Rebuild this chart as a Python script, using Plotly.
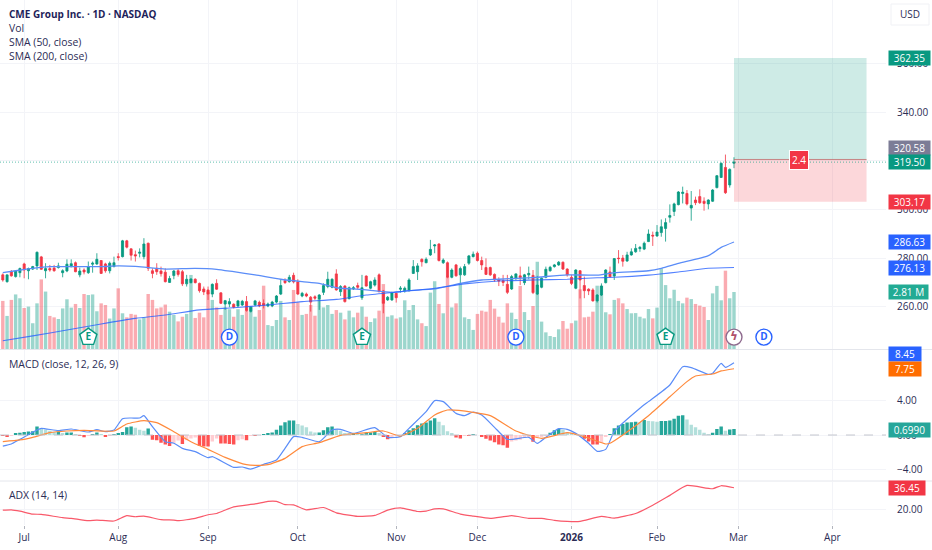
import plotly.graph_objects as go

W, H = 932, 550
PW = 886

tick_idx = [5, 27, 48, 69, 92, 111, 133, 153, 172, 194]
tick_labels = ["Jul", "Aug", "Sep", "Oct", "Nov", "Dec", "<b>2026</b>", "Feb", "Mar", "Apr"]

opens = [
273.1,270.3,274.4,272.4,274.0,277.6,274.8,275.5,276.8,280.5,
274.8,275.7,275.9,276.1,274.0,274.7,276.5,278.1,273.1,275.1,
274.0,277.5,277.6,279.0,277.6,274.8,276.5,280.6,280.6,287.1,
283.8,281.4,282.0,280.6,286.1,274.8,275.8,274.7,274.2,270.0,
272.8,274.8,274.4,269.4,269.9,271.3,269.6,267.3,266.9,265.2,
269.6,265.7,261.1,261.1,261.0,260.3,260.7,262.1,258.1,260.7,
261.8,261.3,260.3,260.3,261.9,265.2,270.7,270.3,272.9,270.2,
264.4,265.2,263.9,264.1,263.2,265.9,268.3,268.0,273.5,266.2,
268.5,263.3,267.3,268.7,263.7,272.6,267.6,268.9,273.1,266.5,
262.8,262.8,265.5,267.2,266.5,266.6,273.7,274.4,279.5,278.1,
281.3,285.0,285.8,278.1,278.1,272.1,277.2,273.1,273.1,277.9,
280.6,282.0,279.0,276.1,276.1,273.3,271.0,270.7,269.2,267.3,
271.7,272.7,269.9,273.1,272.9,265.2,268.0,272.1,274.8,276.5,
277.2,278.3,275.5,272.1,267.6,274.8,268.7,267.2,266.9,262.4,
264.8,269.9,274.3,272.6,280.0,280.0,278.8,281.3,282.6,283.9,
283.7,286.8,289.4,289.1,290.5,292.2,296.8,299.2,302.0,306.6,
306.6,300.6,303.9,305.3,303.4,302.3,303.4,309.0,313.2,317.3,310.1,319.0]

closes = [
271.0,273.1,272.7,274.7,275.7,275.1,275.7,276.5,282.4,275.4,
275.7,275.1,274.8,276.8,274.8,277.5,277.7,274.4,274.7,274.3,
276.5,277.9,279.5,273.7,274.8,277.9,278.1,280.3,287.1,284.5,
281.2,280.9,282.4,285.8,275.8,273.7,274.4,273.6,270.3,271.6,
274.7,273.3,269.4,271.3,271.4,269.9,266.6,266.1,265.2,269.2,
267.2,261.4,262.5,262.1,259.8,262.4,262.2,258.4,259.8,262.4,
260.3,260.6,261.1,261.9,264.4,268.7,269.9,272.1,270.2,265.2,
265.5,264.4,261.9,263.5,264.8,268.7,271.3,271.3,266.9,268.3,
262.1,267.8,267.8,268.0,267.8,268.5,270.3,271.0,266.2,261.4,
263.9,265.8,263.7,267.6,267.6,271.0,276.5,276.8,278.5,279.5,
283.6,285.4,279.0,279.2,272.1,275.1,272.7,275.7,276.5,280.9,
281.6,279.0,277.2,273.3,273.1,271.0,270.6,270.0,265.9,272.4,
273.5,272.0,273.1,273.7,265.8,268.9,271.7,275.4,276.2,277.2,
278.3,275.5,273.1,269.6,275.1,271.0,266.6,266.5,262.4,264.8,
268.5,275.1,272.3,279.8,279.8,278.7,281.3,282.6,284.0,284.4,
286.1,289.9,289.1,290.7,292.9,294.6,297.5,302.3,307.2,307.1,
302.3,301.7,302.8,302.8,302.5,303.9,308.0,313.9,319.0,306.9,316.5,319.5]

highs = [
273.7,273.1,275.1,275.1,276.1,278.1,276.1,276.8,282.7,280.9,
277.9,277.2,277.2,278.1,275.4,279.5,279.5,278.6,276.1,275.8,
278.6,278.6,282.0,279.2,278.1,278.6,280.6,282.0,287.5,287.5,
284.0,283.1,284.0,288.2,286.4,275.8,277.9,276.5,275.8,272.7,
275.1,275.5,275.1,273.1,271.7,271.7,269.9,268.3,268.3,269.6,
271.3,265.9,262.8,263.5,261.4,262.8,262.8,264.4,260.0,262.8,
262.5,263.0,261.7,262.4,264.8,271.0,271.7,273.1,274.0,271.3,
266.1,265.8,264.4,264.7,265.2,269.6,274.4,271.7,275.4,268.9,
268.9,268.3,268.5,269.9,273.1,272.9,270.7,272.1,273.7,266.9,
264.4,266.2,265.8,268.5,268.3,271.7,279.2,277.9,279.9,280.3,
287.5,285.8,286.1,279.9,278.6,275.8,277.6,276.5,277.6,281.3,
282.7,282.7,280.6,279.9,276.5,273.7,272.1,273.1,273.1,273.1,
273.7,276.5,273.5,276.5,275.1,272.7,272.1,276.5,276.8,277.6,
278.8,278.6,275.8,273.1,275.4,275.1,272.4,267.6,267.6,265.2,
269.6,275.4,276.5,279.9,283.3,281.3,282.6,284.0,285.8,285.0,
286.8,291.8,290.9,293.6,295.9,296.4,302.1,302.8,307.6,309.4,
308.0,307.6,305.3,308.3,305.0,304.2,308.4,314.2,319.3,322.6,316.9,321.5]

lows = [
270.3,269.9,272.4,272.0,272.1,271.7,271.3,275.1,275.1,275.1,
271.7,274.4,274.4,275.7,272.1,274.2,276.2,274.2,272.1,273.3,
273.5,274.0,277.2,273.5,274.0,273.7,276.2,279.0,280.3,284.0,
279.0,278.6,280.3,279.5,274.7,271.7,273.1,272.4,270.0,269.8,
271.3,272.4,268.5,268.3,269.6,269.6,265.8,264.8,262.8,263.9,
266.9,261.1,258.7,259.8,259.3,259.8,260.3,258.0,257.6,260.3,
259.8,259.3,259.8,259.8,261.4,264.8,269.4,269.9,269.6,264.8,
263.9,263.9,258.0,262.8,258.7,264.8,267.6,267.6,266.6,264.4,
261.7,263.0,266.9,267.2,262.8,268.3,267.2,268.3,265.9,257.3,
262.4,262.4,261.7,265.8,265.8,266.2,273.5,271.0,276.5,277.9,
280.9,282.0,278.6,277.6,271.7,271.7,272.4,269.6,272.7,277.2,
280.3,278.6,275.1,273.1,272.7,270.3,268.5,268.5,265.2,266.9,
271.0,268.9,268.9,271.3,265.2,264.8,267.6,271.7,274.4,276.1,
276.8,275.1,272.4,268.9,267.2,263.4,263.5,264.8,262.1,261.7,
264.4,269.6,272.1,271.0,277.8,276.5,278.5,281.0,282.2,282.6,
283.3,286.6,285.0,288.8,288.8,286.8,294.6,297.3,301.7,302.5,
301.7,295.4,301.8,302.3,299.5,300.1,303.1,308.7,313.0,306.4,309.0,317.0]

volumes_m = [
2.37,1.63,2.42,2.69,2.50,2.02,2.09,1.27,2.25,3.43,
2.83,1.63,1.56,1.48,2.00,2.45,2.04,2.22,2.02,2.71,
2.66,2.69,1.86,2.25,2.17,1.50,2.00,2.99,1.76,1.56,
1.73,1.69,1.46,1.56,2.71,2.42,2.00,2.05,2.19,1.84,
1.68,1.36,1.59,1.73,3.65,1.53,1.79,1.56,2.83,2.42,
2.05,1.68,2.05,1.96,1.59,1.96,1.68,1.89,2.12,1.59,
1.92,3.12,1.18,1.13,1.43,2.37,1.56,1.43,2.91,2.30,
1.68,1.73,2.17,1.64,2.46,2.05,2.17,1.73,1.92,1.79,
1.46,1.89,1.56,1.79,2.09,1.59,1.33,1.51,1.89,3.20,
1.59,1.66,1.50,1.56,2.40,1.92,2.17,1.46,1.27,1.13,
2.78,3.34,2.22,1.76,3.53,2.05,2.25,3.24,1.56,1.48,
0.94,1.73,1.89,1.84,2.42,1.99,1.59,1.30,2.25,1.79,
1.48,3.11,1.82,1.43,2.12,4.30,1.35,0.82,0.64,0.59,
0.97,1.38,1.00,1.27,1.40,2.94,1.56,1.59,1.84,3.12,
3.12,1.81,1.71,2.42,2.50,2.25,1.97,1.76,1.77,1.59,
1.51,1.97,1.51,2.04,3.98,3.15,2.50,2.92,2.37,2.25,
2.53,2.46,2.22,2.14,2.07,1.43,2.74,3.11,2.40,3.86,2.50,2.81]

sma50_idx = [0,3,7,11,15,23,27,31,34,38,45,50,54,59,65,70,74,78,82,85,91,95,101,107,112,116,124,132,139,143,151,154,158,165,168,171]
sma50_val = [274.0,274.8,275.8,276.5,276.5,276.5,276.8,276.6,276.1,275.5,275.8,275.4,274.4,273.1,271.3,270.3,269.6,267.8,267.3,266.9,265.9,266.6,267.3,269.6,271.0,271.3,272.0,273.1,273.0,274.0,274.8,275.8,277.8,281.0,284.4,286.63]
sma200_idx = [0,7,15,23,31,38,46,54,62,70,78,85,93,101,108,116,124,132,139,143,151,158,165,171]
sma200_val = [246.0,248.0,250.4,252.9,255.2,256.6,258.7,259.6,260.7,262.1,263.0,264.8,266.2,267.6,269.4,270.6,271.0,271.3,271.9,272.1,273.0,274.3,275.8,276.13]

macd_idx = [0,2,4,8,9,13,16,20,22,24,26,28,30,32,33,35,38,40,42,45,48,49,54,56,58,61,64,66,68,70,74,77,79,82,87,90,93,95,99,101,103,106,108,110,112,115,118,123,125,127,130,132,134,137,139,141,143,149,151,156,159,161,165,166,168,169,171]
macd_val = [-1.29,-1.05,-.51,.58,.78,.51,.70,.35,.62,.39,.58,1.91,1.99,1.99,2.26,.97,-.78,-.97,-1.56,-1.95,-2.65,-2.53,-3.78,-3.74,-3.98,-3.43,-2.92,-1.56,-.19,-.27,-.78,.58,.66,.19,.86,-.27,-.19,.78,2.73,4.02,3.90,2.53,2.26,2.69,2.34,.90,-.51,-.27,-.97,-.27,.74,.66,.19,-.97,-1.91,-1.68,.39,3.12,3.90,5.85,7.99,7.88,7.10,7.21,8.38,7.91,8.45]
signal_idx = [0,4,7,11,15,19,26,29,33,36,40,44,48,52,57,59,62,66,70,74,79,85,89,93,97,101,104,110,114,120,126,132,136,141,142,145,151,156,160,162,166,168,171]
signal_val = [-.78,-.58,-.27,.27,.47,.55,.47,1.29,1.68,1.44,.39,-.78,-1.68,-2.61,-3.47,-3.55,-3.47,-2.73,-1.36,-.90,-.04,.27,.47,-.12,.78,2.34,2.92,2.65,2.26,.47,-.39,.27,-.19,-1.05,-.97,0,2.26,4.48,6.24,6.90,7.13,7.49,7.75]
hist = [
-.1,-.15,-.1,.2,.25,.35,.4,.45,1.0,.75,
.65,.5,.35,.4,.2,.3,.3,.05,-.1,-.25,
-.1,.1,.3,.05,-.2,-.05,.1,.15,.35,.9,
1.0,.85,.6,.5,.75,-.55,-.6,-.9,-1.1,-1.3,
-.9,-.65,-1.05,-.6,-.4,-.3,-1.3,-1.35,-1.35,-.75,
-.4,-1.0,-1.0,-1.05,-1.1,-.6,-.5,-.6,-.1,-.1,
0,.1,.15,.3,.6,1.1,1.5,1.7,1.7,1.3,
1.1,.9,.4,.3,.3,.55,.9,1.0,.7,.5,
.2,.15,.15,.1,.1,.25,.3,.35,.15,-.2,
-.5,-.3,-.1,0,.2,.55,.8,1.15,1.35,1.45,
1.7,1.95,1.55,1.15,.45,.2,-.3,-.4,-.1,-.1,
.05,0,-.2,-.45,-.65,-.85,-1.1,-1.2,-1.5,-.75,
-.65,-.55,-.35,-.2,-.8,-.2,-.15,-.05,.25,.55,
.7,.6,.3,.25,.1,-.1,-.45,-.75,-1.1,-1.1,
-.9,-.2,.05,.8,1.1,1.3,1.45,1.5,1.55,1.5,
1.75,1.65,1.6,1.55,1.65,1.65,1.7,1.9,2.25,2.3,
1.8,1.2,.9,.6,.25,.1,.25,.7,1.0,.5,.65,.699]

adx_idx = [0,2,4,7,9,14,16,20,22,26,29,31,33,37,40,41,45,48,50,54,59,62,64,66,68,71,75,78,83,87,90,93,97,99,101,103,107,110,114,119,123,126,129,132,135,140,143,148,152,156,160,166,168,171]
adx_val = [19.5,19.75,18.75,16.5,16.3,13.8,13.3,11.5,12.0,11.3,15.3,14.5,15.0,12.3,12.0,11.5,13.3,16.0,17.0,22.0,24.2,26.2,26.2,23.7,23.5,19.75,21.5,17.5,14.8,15.5,19.5,21.2,18.5,18.75,20.5,20.5,16.5,15.0,13.3,15.3,13.3,13.3,11.8,11.0,11.0,14.8,13.5,17.0,23.2,30.7,38.2,35.7,38.0,36.45]

earnings_idx = [20, 84, 155]
dividend_idx = [53, 120, 178]
split_idx = [171]

target_price = 362.35
entry_price = 320.58
stop_price = 303.17
last_price = 319.50

idx = list(range(len(closes)))
GREEN, RED, BLUE = "#089981", "#F23645", "#2962FF"
LBLUE = "#5B8DF8"
TXT = "#2C2C55"
GRID = "#F3F4F8"
FONT = "Open Sans"

vol_colors = ["rgba(8,153,129,0.4)" if c >= o else "rgba(242,54,69,0.42)" for o, c in zip(opens, closes)]
hist_colors = []
for k, v in enumerate(hist):
    p = hist[k - 1] if k else 0
    if v >= 0:
        hist_colors.append("#26A69A" if v >= p else "#B2DFDB")
    else:
        hist_colors.append("#FF5252" if v <= p else "#FFCDD2")

fig = go.Figure()
fig.add_trace(go.Bar(x=idx, y=volumes_m, marker=dict(color=vol_colors, line_width=0), width=0.8, yaxis="y", hoverinfo="skip"))
fig.add_trace(go.Candlestick(x=idx, open=opens, high=highs, low=lows, close=closes, yaxis="y2", whiskerwidth=0,
    increasing=dict(line=dict(color=GREEN, width=0.8), fillcolor=GREEN),
    decreasing=dict(line=dict(color=RED, width=0.8), fillcolor=RED), hoverinfo="skip"))
fig.add_trace(go.Scatter(x=sma50_idx, y=sma50_val, mode="lines", yaxis="y2", line=dict(color=LBLUE, width=1.3, shape="spline", smoothing=0.6), hoverinfo="skip"))
fig.add_trace(go.Scatter(x=sma200_idx, y=sma200_val, mode="lines", yaxis="y2", line=dict(color=BLUE, width=1.1, shape="spline", smoothing=0.6), opacity=0.8, hoverinfo="skip"))

evy = [247.5]
fig.add_trace(go.Scatter(x=earnings_idx, y=evy * 3, mode="markers+text", yaxis="y2", text=["<b>E</b>"] * 3, textposition="middle center",
    textfont=dict(family=FONT, size=10, color=GREEN), marker=dict(symbol="pentagon", size=18, color="white", line=dict(color=GREEN, width=1.4)), hoverinfo="skip"))
fig.add_trace(go.Scatter(x=dividend_idx, y=evy * 3, mode="markers+text", yaxis="y2", text=["<b>D</b>"] * 3, textposition="middle center",
    textfont=dict(family=FONT, size=10, color=BLUE), marker=dict(symbol="circle", size=16, color="white", line=dict(color=BLUE, width=1.4)), hoverinfo="skip"))
fig.add_trace(go.Scatter(x=split_idx, y=evy, mode="markers+text", yaxis="y2", text=["<b>\u03df</b>"], textposition="middle center",
    textfont=dict(family="DejaVu Sans", size=12, color="#B0506A"), marker=dict(symbol="circle", size=16, color="white", line=dict(color="#8E6A8E", width=1.4)), hoverinfo="skip"))

fig.add_trace(go.Bar(x=idx, y=hist, marker=dict(color=hist_colors, line_width=0), width=0.8, yaxis="y3", hoverinfo="skip"))
fig.add_trace(go.Scatter(x=macd_idx, y=macd_val, mode="lines", yaxis="y3", line=dict(color=LBLUE, width=1.2, shape="spline", smoothing=0.5), hoverinfo="skip"))
fig.add_trace(go.Scatter(x=signal_idx, y=signal_val, mode="lines", yaxis="y3", line=dict(color="#FF8A3C", width=1.2, shape="spline", smoothing=0.5), hoverinfo="skip"))
fig.add_trace(go.Scatter(x=adx_idx, y=adx_val, mode="lines", yaxis="y4", line=dict(color="#F9596A", width=1.2, shape="spline", smoothing=0.5), hoverinfo="skip"))

def dom(top, bottom):
    return [1 - bottom / H, 1 - top / H]

tickf = dict(family=FONT, size=10, color=TXT)
common_y = dict(side="right", anchor="x", showline=False, zeroline=False, ticks="outside", ticklen=8, tickcolor="rgba(0,0,0,0)", tickfont=tickf, gridcolor=GRID, gridwidth=1, tickformat=".2f")

fig.update_layout(
    width=W, height=H, margin=dict(l=0, r=0, t=0, b=0), paper_bgcolor="white", plot_bgcolor="white",
    showlegend=False, barmode="overlay", font=dict(family=FONT, color=TXT),
    xaxis=dict(domain=[0, PW / W], range=[-0.655, 206.55], anchor="y4", type="linear", tickmode="array", tickvals=tick_idx, ticktext=tick_labels,
               tickfont=dict(family=FONT, size=10, color=TXT), showgrid=True, gridcolor=GRID, zeroline=False, showline=False, ticks="outside", ticklen=3, tickcolor="#B2B5BE",
               rangeslider=dict(visible=False)),
    yaxis=dict(domain=dom(0, 349), range=[0, 17.2], showgrid=False, showticklabels=False, zeroline=False, anchor="x", fixedrange=True),
    yaxis2=dict(common_y, domain=dom(0, 349), overlaying="y", range=[242.6, 386.2], tickmode="array", tickvals=[260, 280, 300, 320, 340, 360]),
    yaxis3=dict(common_y, domain=dom(350, 480.5), range=[-5.32, 9.94], tickmode="array", tickvals=[-4, 0, 4]),
    yaxis4=dict(common_y, domain=dom(481.5, 525), range=[8.26, 41.2], tickmode="array", tickvals=[20]),
)

shapes = []
ridx_a, ridx_b = 171, 202
shapes.append(dict(type="rect", xref="x", yref="y2", x0=ridx_a, x1=ridx_b, y0=entry_price, y1=target_price, fillcolor="rgba(8,153,129,0.2)", line_width=0))
shapes.append(dict(type="rect", xref="x", yref="y2", x0=ridx_a, x1=ridx_b, y0=stop_price, y1=entry_price, fillcolor="rgba(242,54,69,0.2)", line_width=0))
shapes.append(dict(type="line", xref="x", yref="y2", x0=ridx_a, x1=ridx_b, y0=entry_price, y1=entry_price, line=dict(color="rgba(190,110,110,0.8)", width=1)))
shapes.append(dict(type="line", xref="paper", yref="y2", x0=0, x1=PW / W, y0=last_price, y1=last_price, line=dict(color="rgba(8,153,129,0.65)", width=1, dash="1px,2px")))
shapes.append(dict(type="line", xref="paper", yref="y3", x0=0, x1=PW / W, y0=0, y1=0, line=dict(color="#C4C6CE", width=1, dash="dash")))
for py in (349.5, 481):
    shapes.append(dict(type="line", xref="paper", yref="paper", x0=0, x1=1, y0=1 - py / H, y1=1 - py / H, line=dict(color="#E4E6EC", width=1)))
shapes.append(dict(type="rect", xref="paper", yref="paper", x0=891 / W, x1=929 / W, y0=1 - 25 / H, y1=1 - 4 / H, fillcolor="rgba(0,0,0,0)", line=dict(color="#F0F1F5", width=1)))
fig.update_layout(shapes=shapes)

ann = []
def left(text, py, bold=False, size=10.4):
    ann.append(dict(xref="paper", yref="paper", x=7 / W, y=1 - py / H, xanchor="left", yanchor="middle", showarrow=False,
                    text=f"<b>{text}</b>" if bold else text, font=dict(family=FONT, size=size, color="#1E1E5A" if bold else TXT)))
left("CME Group Inc. \u00b7 1D \u00b7 NASDAQ", 14, True, 10)
left("Vol", 28)
left("SMA (50, close)", 42)
left("SMA (200, close)", 56)
left("MACD (close, 12, 26, 9)", 364)
left("ADX (14, 14)", 495)

ann.append(dict(xref="paper", yref="paper", x=910 / W, y=1 - 14 / H, xanchor="center", yanchor="middle", showarrow=False, text="USD",
                font=dict(family=FONT, size=10, color=TXT)))

def tag(text, pyc, color, w=41):
    ann.append(dict(xref="paper", yref="paper", x=888 / W, y=1 - pyc / H, xanchor="left", yanchor="middle", showarrow=False, text=text,
                    width=w, height=14, align="center", valign="middle", bgcolor=color, borderpad=0,
                    font=dict(family=FONT, size=10, color="white")))
tag("362.35", 58, GREEN)
tag("320.58", 148, "#7C7C96")
tag("319.50", 162.5, GREEN)
tag("303.17", 202, RED)
tag("286.63", 242, BLUE)
tag("276.13", 268, BLUE)
tag("2.81 M", 292, "#22AB94", 39)
tag("8.45", 354, BLUE, 32)
tag("7.75", 369, "#FF6D00", 32)
tag("0.6990", 430, "#26A69A")
tag("36.45", 488, RED, 36)

ann.append(dict(xref="x", yref="y2", x=186.1, y=entry_price - 0.4, xanchor="center", yanchor="middle", showarrow=False, text="2.4",
                bgcolor=RED, bordercolor="white", borderwidth=1, borderpad=2, font=dict(family=FONT, size=10, color="white")))
fig.update_layout(annotations=ann)

fig.write_html("out.html", config=dict(displayModeBar=False), post_script="document.body.style.margin='0';document.body.style.overflow='hidden';")
